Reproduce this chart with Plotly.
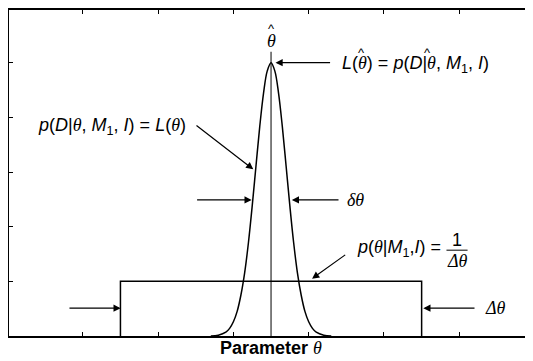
import plotly.graph_objects as go

# ---- data ----
like_x = [2.70, 2.80, 2.90, 2.95, 3.00, 3.05, 3.10, 3.15, 3.20, 3.25, 3.30, 3.35, 3.40, 3.45,
          3.50, 3.55, 3.60, 3.65, 3.70, 3.75, 3.80, 3.85, 3.90, 3.95, 4.00, 4.05, 4.10, 4.20, 4.30]
like_y = [0.00, 0.015, 0.07, 0.14, 0.26, 0.45, 0.75, 1.16, 1.71, 2.38, 3.11, 3.83, 4.44, 4.85,
          5.00, 4.85, 4.44, 3.83, 3.11, 2.38, 1.71, 1.16, 0.75, 0.45, 0.26, 0.14, 0.07, 0.015, 0.00]
prior_x = [1.5, 1.5, 5.5, 5.5]
prior_y = [0.0, 1.0, 1.0, 0.0]
peak_x = [3.5, 3.5]
peak_y = [0.0, 5.2]
x_ticks = [1, 2, 3, 4, 5, 6]
y_ticks = [1, 2, 3, 4, 5]

SANS = "Liberation Sans, Arial, Helvetica, sans-serif"
SERIF = "Liberation Serif, Times New Roman, serif"


def th(s="θ"):
    return f'<span style="font-family:{SERIF};font-style:italic">{s}</span>'


def it(s):
    return f"<i>{s}</i>"


fig = go.Figure()
fig.add_trace(go.Scatter(x=prior_x, y=prior_y, mode="lines",
                         line=dict(color="black", width=1.5), hoverinfo="skip"))
fig.add_trace(go.Scatter(x=peak_x, y=peak_y, mode="lines",
                         line=dict(color="black", width=1), hoverinfo="skip"))
fig.add_trace(go.Scatter(x=like_x, y=like_y, mode="lines", line_shape="spline",
                         line=dict(color="black", width=1.5), hoverinfo="skip"))
# invisible trace for right-side ticks
fig.add_trace(go.Scatter(x=[None], y=[None], yaxis="y2", showlegend=False))

arrows = [
    ((4.304, 5.0), (3.559, 5.0)),
    ((2.49, 3.873), (3.264, 3.049)),
    ((2.498, 2.49), (3.243, 2.49)),
    ((4.416, 2.49), (3.776, 2.49)),
    ((4.505, 1.504), (4.045, 1.049)),
    ((0.803, 0.509), (1.503, 0.509)),
    ((6.222, 0.509), (5.522, 0.509)),
]
for (tx, ty), (hx, hy) in arrows:
    fig.add_annotation(x=hx, y=hy, ax=tx, ay=ty, xref="x", yref="y", axref="x", ayref="y",
                       text="", showarrow=True, arrowhead=2, arrowsize=1.2, arrowwidth=1.2,
                       arrowcolor="black", standoff=0)

fsz = 18
texts = [
    (4.415, 4.96, "left", f"{it('L')}({th()}) = {it('p')}({it('D')}|{th()}, {it('M')}<sub>1</sub>, {it('I')})"),
    (0.379, 3.836, "left", f"{it('p')}({it('D')}|{th()}, {it('M')}<sub>1</sub>, {it('I')}) = {it('L')}({th()})"),
    (4.482, 2.49, "left", th("δθ")),
    (4.615, 1.6, "left", f"{it('p')}({th()}|{it('M')}<sub>1</sub>,{it('I')}) ="),
    (5.97, 1.76, "center", "1"),
    (5.97, 1.38, "center", th("Δθ")),
    (6.315, 0.509, "left", th("Δθ")),
    (3.5, 5.40, "center", th()),
]
for x, y, anc, t in texts:
    fig.add_annotation(x=x, y=y, xref="x", yref="y", text=t, showarrow=False,
                       xanchor=anc, yanchor="middle", font=dict(family=SANS, size=fsz, color="black"))

# hats over theta
for x, y in [(3.5, 5.62), (4.70, 5.18), (5.575, 5.18)]:
    fig.add_annotation(x=x, y=y, xref="x", yref="y", text="^", showarrow=False,
                       xanchor="center", yanchor="middle",
                       font=dict(family=SANS, size=13, color="black"))

# fraction bar
fig.add_shape(type="line", x0=5.83, x1=6.11, y0=1.57, y1=1.57, xref="x", yref="y",
              line=dict(color="black", width=1))

fig.add_annotation(x=3.5, y=0, xref="x", yref="paper", yshift=-12,
                   text=f"<b>Parameter</b> {th()}", showarrow=False,
                   xanchor="center", yanchor="middle", font=dict(family=SANS, size=18, color="black"))

fig.update_layout(
    width=525, height=353,
    margin=dict(l=1, r=0, t=0, b=25),
    paper_bgcolor="white", plot_bgcolor="white",
    showlegend=False,
    xaxis=dict(range=[0.02, 6.979], tickvals=x_ticks, ticks="inside", ticklen=4, tickwidth=1,
               tickcolor="black", showticklabels=False, showgrid=False, zeroline=False,
               showline=True, linecolor="black", linewidth=1.5, mirror="ticks"),
    yaxis=dict(range=[0, 5.964], tickvals=y_ticks, ticks="inside", ticklen=4, tickwidth=1,
               tickcolor="black", showticklabels=False, showgrid=False, zeroline=False,
               showline=True, linecolor="black", linewidth=1.5),
    yaxis2=dict(range=[0, 5.964], overlaying="y", side="right", tickvals=y_ticks, ticks="inside",
                ticklen=2, tickwidth=1, tickcolor="black", showticklabels=False,
                showgrid=False, zeroline=False, showline=False),
)

fig.write_html("out.html")
